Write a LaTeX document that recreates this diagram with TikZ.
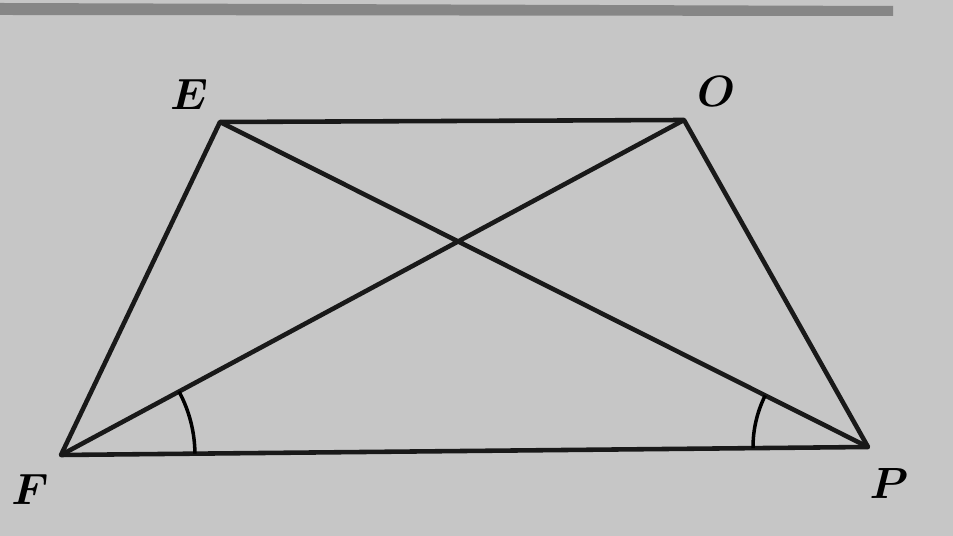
\documentclass[tikz,border=0pt]{standalone}
\usepackage{amsmath,amssymb}
\usepackage{tikz}
\usetikzlibrary{angles,positioning}

\begin{document}
\begin{tikzpicture}[line join=round,x=0.02cm,y=0.02cm,
    side/.style={line width=2.6pt,black!90},
    lbl/.style={font=\fontsize{25}{30}\selectfont}]
      \fill[gray!45!white] (0,0) rectangle (953,536);
      \useasboundingbox (0,0) rectangle (953,536);
      \fill[gray!95] (0,533) -- (893,530) -- (893,520) -- (0,521) -- cycle;
      \coordinate (E) at (220,414);
      \coordinate (O) at (684,416);
      \coordinate (F) at (61,81);
      \coordinate (P) at (868,89);
      \node[lbl] (LE) at (189,441) {$\boldsymbol{E}$};
      \node[lbl] (LO) at (716,444) {$\boldsymbol{O}$};
      \node[lbl] (LF) at (30,46) {$\boldsymbol{F}$};
      \node[lbl] (LP) at (889,52) {$\boldsymbol{P}$};
      \draw[side] (E) -- (O) -- (P) -- (F) -- cycle;
      \draw[side] (E) -- (P) (F) -- (O);
      \path (P) -- (F) -- (O) pic[draw,line width=2pt,angle radius=2.68cm] {angle=P--F--O};
      \path (E) -- (P) -- (F) pic[draw,line width=2pt,angle radius=2.3cm] {angle=E--P--F};
    \end{tikzpicture}
\end{document}
